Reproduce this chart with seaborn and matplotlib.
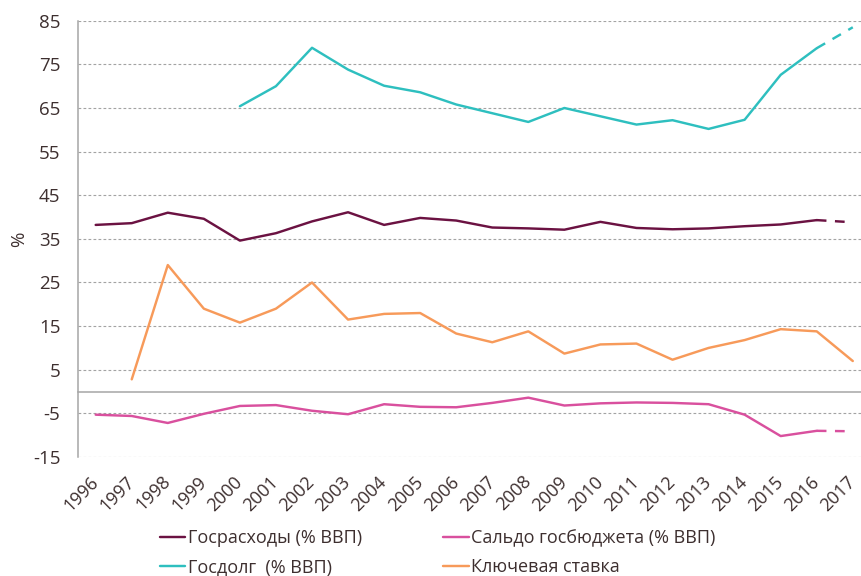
import numpy as np
import pandas as pd
import matplotlib.pyplot as plt
from matplotlib.ticker import FixedLocator
import seaborn as sns

# данные (% ВВП и %)
years = list(range(1996, 2018))
gosrashody = [38.2, 38.6, 41.0, 39.6, 34.6, 36.3, 39.0, 41.1, 38.2, 39.8, 39.2,
              37.6, 37.4, 37.1, 38.9, 37.5, 37.2, 37.4, 37.9, 38.3, 39.3, 38.8]
saldo = [-5.3, -5.6, -7.2, -5.1, -3.3, -3.1, -4.4, -5.2, -2.9, -3.5, -3.6,
         -2.6, -1.4, -3.2, -2.7, -2.5, -2.6, -2.9, -5.3, -10.2, -9.0, -9.1]
gosdolg = [np.nan] * 4 + [65.4, 70.0, 78.8, 73.8, 70.1, 68.6, 65.8, 63.8, 61.8,
                          65.0, 63.1, 61.2, 62.2, 60.2, 62.3, 72.6, 78.7, 83.5]
klyuch = [np.nan, 2.8, 29.0, 19.0, 15.8, 19.0, 25.0, 16.5, 17.8, 18.0, 13.3,
          11.3, 13.8, 8.7, 10.8, 11.0, 7.3, 10.0, 11.8, 14.3, 13.8, 7.0]
yticks = list(range(-15, 86, 10))
forecast_year = 2016

names = ['Госрасходы (% ВВП)', 'Сальдо госбюджета (% ВВП)',
         'Госдолг  (% ВВП)', 'Ключевая ставка']
colors = ['#6b1242', '#d9509e', '#2ebfbf', '#f79a5a']
dashed_tail = [True, True, True, False]

df = pd.DataFrame({'Год': years, names[0]: gosrashody, names[1]: saldo,
                   names[2]: gosdolg, names[3]: klyuch})

sns.set_style('white')
plt.rcParams['font.family'] = ['Open Sans', 'DejaVu Sans']
text_color = '#3d2f2f'
grey = '#a6a6a6'

fig = plt.figure(figsize=(8.61, 5.76), dpi=100)
ax = fig.add_axes([0.0902, 0.2066, 0.9212, 0.7574])

lw = 1.75
for name, color, tail in zip(names, colors, dashed_tail):
    part = df[df['Год'] <= forecast_year] if tail else df
    sns.lineplot(data=part, x='Год', y=name, color=color, lw=lw, label=name,
                 estimator=None, ax=ax)
    if tail:
        sns.lineplot(data=df[df['Год'] >= forecast_year], x='Год', y=name,
                     color=color, lw=lw, linestyle=(0, (4, 3.5)),
                     estimator=None, legend=False, ax=ax)

ax.set_xlim(1995.5, 2017.5)
ax.set_ylim(-15, 85)
ax.set_yticks(yticks)
ax.set_yticklabels([str(t) for t in yticks])
ax.yaxis.grid(True, linestyle=(0, (2.5, 2)), color='#a3a3a3', lw=0.8)
ax.set_axisbelow(True)

for s in ['top', 'right']:
    ax.spines[s].set_visible(False)
ax.spines['left'].set_color(grey)
ax.spines['left'].set_linewidth(1.1)
ax.spines['bottom'].set_position(('data', 0))
ax.spines['bottom'].set_color(grey)
ax.spines['bottom'].set_linewidth(1.1)

ax.set_xticks(years)
ax.set_xticklabels([str(y) for y in years], rotation=45, ha='right',
                   va='center', rotation_mode='anchor')
ax.xaxis.set_minor_locator(FixedLocator(np.arange(1995.5, 2018, 1)))
ax.tick_params(axis='x', which='major', length=0, pad=63, labelsize=13,
               labelcolor=text_color)
ax.tick_params(axis='x', which='minor', length=3.5, width=1, color=grey,
               direction='out')
ax.tick_params(axis='y', length=4.5, width=0.9, color=grey, pad=8,
               labelsize=13.5, labelcolor=text_color)

ax.set_xlabel('')
ax.set_ylabel('%', fontsize=13.5, color=text_color)
ax.yaxis.set_label_coords(-0.062, 0.5)

h, l = ax.get_legend_handles_labels()
order = [0, 2, 1, 3]
leg = ax.legend([h[i] for i in order], [l[i] for i in order], ncol=2,
                loc='upper left', bbox_to_anchor=(160 / 861, 0.081),
                bbox_transform=fig.transFigure, frameon=False, fontsize=13,
                handlelength=1.4, handletextpad=0.15, columnspacing=4.5,
                labelspacing=0.6, borderpad=0, borderaxespad=0)
for t in leg.get_texts():
    t.set_color(text_color)

fig.savefig('out.png', dpi=100)
